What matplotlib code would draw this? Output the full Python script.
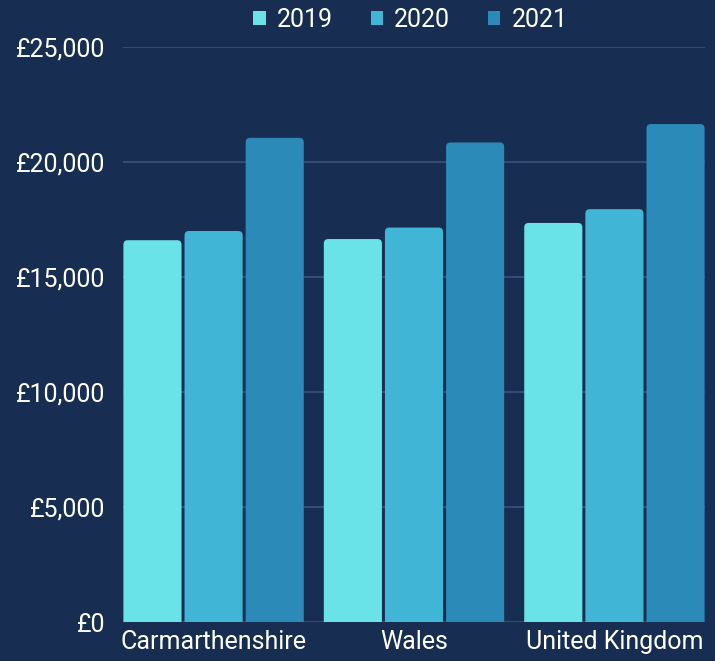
import matplotlib
matplotlib.use("Agg")
import matplotlib.pyplot as plt
import numpy as np
from matplotlib.ticker import FuncFormatter
from matplotlib.patches import FancyBboxPatch, Patch

categories = ["Carmarthenshire", "Wales", "United Kingdom"]
years = ["2019", "2020", "2021"]
values_2019 = [16600, 16650, 17350]
values_2020 = [17000, 17150, 17950]
values_2021 = [21050, 20850, 21650]
yticks = [0, 5000, 10000, 15000, 20000, 25000]

bg = "#172E52"
colors = ["#69E3E8", "#40B5D5", "#2B8AB8"]
grid_c = "#3A5078"

plt.rcParams['font.family'] = ['Roboto', 'DejaVu Sans']

fig = plt.figure(figsize=(7.15, 6.61), dpi=100, facecolor=bg)
ax = fig.add_axes([123/715, (661-622)/661, (705-123)/715, (622-47)/661])
ax.set_facecolor(bg)

x = np.arange(len(categories))
width = 0.29
step = 0.305
series = [values_2019, values_2020, values_2021]
px_per_x = 582 / 2.904
px_per_y = 575 / 25000
aspect = px_per_x / px_per_y
r = 0.022
for i, (vals, col, yr) in enumerate(zip(series, colors, years)):
    bars = ax.bar(x + (i - 1) * step, vals, width, color=col, zorder=3)
    for b in bars:
        b.set_visible(False)
        ext = 400
        p = FancyBboxPatch((b.get_x(), -ext), b.get_width(), b.get_height() + ext,
                           boxstyle=f"round,pad=0,rounding_size={r}",
                           mutation_aspect=aspect, facecolor=col,
                           edgecolor='none', zorder=3)
        ax.add_patch(p)

ax.set_xlim(-0.452, 2.452)
ax.set_ylim(0, 25000)
ax.set_yticks(yticks)
ax.yaxis.set_major_formatter(FuncFormatter(lambda v, p: f"£{int(v):,}"))
ax.set_xticks(x)
ax.set_xticklabels(categories)
ax.grid(axis='y', color=grid_c, linewidth=1.3, zorder=0)
ax.tick_params(axis='both', length=0, colors='white', labelsize=18)
ax.tick_params(axis='y', pad=13)
ax.tick_params(axis='x', pad=6)
for s in ax.spines.values():
    s.set_visible(False)

handles = [Patch(facecolor=c, edgecolor='none', label=y) for c, y in zip(colors, years)]
leg = fig.legend(handles=handles, loc='upper center', bbox_to_anchor=(0.574, 1.022), ncol=3,
                 frameon=False, fontsize=18, handlelength=0.5, handleheight=0.5,
                 handletextpad=0.45, columnspacing=1.5, labelcolor='white')

fig.savefig("out.png", dpi=100, facecolor=bg)
